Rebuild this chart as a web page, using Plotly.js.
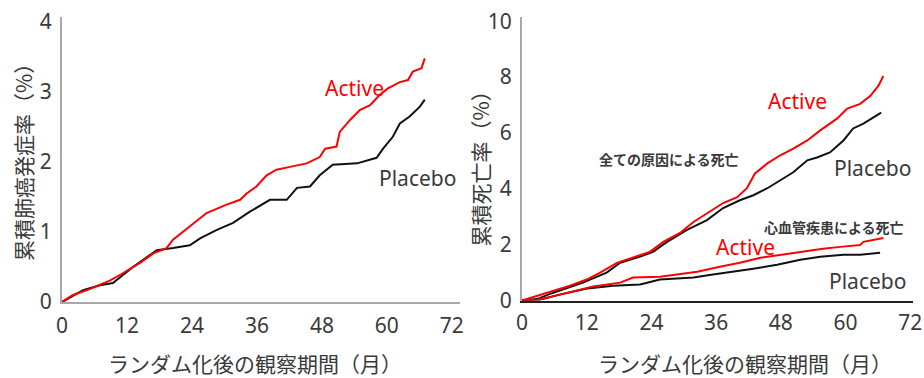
<!DOCTYPE html>
<html>
<head>
<meta charset="utf-8">
<script src="https://cdn.plot.ly/plotly-3.0.1.min.js"></script>
<style>html,body{margin:0;padding:0;background:#fff;}#chart{width:924px;height:378px;}</style>
</head>
<body>
<div id="chart"></div>
<script>
// Left panel: cumulative lung cancer incidence (%)
const lungActiveMonths = [0, 2, 5, 8.9, 11, 14.4, 17, 19.3, 20.5, 22, 24.2, 26.7, 30.4, 32.9, 34.1, 35.9, 37.8, 39.6, 42.1, 45.2, 47.6, 48.6, 50.7, 51.3, 53.2, 55, 56.9, 58.7, 60.2, 62.4, 63.9, 64.8, 66.4, 67];
const lungActiveRate   = [0, 0.10, 0.18, 0.31, 0.40, 0.56, 0.70, 0.77, 0.89, 0.98, 1.12, 1.27, 1.39, 1.46, 1.55, 1.65, 1.81, 1.89, 1.93, 1.98, 2.07, 2.19, 2.22, 2.43, 2.60, 2.74, 2.81, 2.96, 3.05, 3.14, 3.17, 3.29, 3.34, 3.48];
const lungPlaceboMonths = [0, 3.9, 7, 9.4, 13.1, 17.5, 20.5, 23.6, 25.5, 28.6, 31.6, 34.7, 38.4, 41.5, 43.4, 45.8, 47.6, 50, 54.5, 58.1, 59.3, 61.1, 62.4, 64.2, 66.1, 67];
const lungPlaceboRate   = [0, 0.17, 0.24, 0.27, 0.50, 0.74, 0.77, 0.81, 0.91, 1.03, 1.13, 1.29, 1.46, 1.46, 1.63, 1.65, 1.81, 1.96, 1.98, 2.06, 2.19, 2.36, 2.55, 2.65, 2.79, 2.89];

// Right panel: cumulative mortality (%)
const allActiveMonths = [0, 4.6, 8.9, 12, 14.5, 17.6, 21.3, 23.7, 26.2, 29.3, 31.8, 34.5, 37.3, 39.9, 41.7, 43.2, 45.5, 47.9, 50.3, 52.9, 55.3, 58.4, 60.3, 62.7, 64.6, 66.1, 67];
const allActiveRate   = [0, 0.28, 0.53, 0.75, 1.00, 1.35, 1.57, 1.74, 2.10, 2.42, 2.81, 3.13, 3.49, 3.70, 4.02, 4.55, 4.91, 5.20, 5.44, 5.73, 6.09, 6.51, 6.87, 7.04, 7.33, 7.69, 8.04];
const allPlaceboMonths = [0, 2.8, 5.8, 11.3, 15.7, 18.2, 21.9, 24.3, 26.9, 30.6, 34.3, 37.3, 40.4, 42.9, 45.5, 47.9, 50.3, 52.9, 54.7, 57.1, 59.6, 61.4, 63.3, 65.1, 66.6];
const allPlaceboRate   = [0, 0.05, 0.28, 0.64, 1.00, 1.35, 1.57, 1.74, 2.10, 2.53, 2.88, 3.31, 3.59, 3.77, 4.02, 4.31, 4.59, 5.02, 5.12, 5.30, 5.73, 6.16, 6.33, 6.55, 6.73];
const cvActiveMonths = [0, 2.8, 7, 13.2, 18.2, 20.6, 25.6, 28.8, 32.5, 36.7, 40.4, 44.2, 47.9, 52.1, 55.8, 59, 62.7, 63.3, 67];
const cvActiveRate   = [0, 0.02, 0.21, 0.50, 0.64, 0.82, 0.85, 0.93, 1.03, 1.21, 1.35, 1.53, 1.64, 1.74, 1.85, 1.92, 1.99, 2.10, 2.24];
const cvPlaceboMonths = [0, 2.8, 7, 12.1, 16.9, 21.9, 25.6, 31.8, 35.4, 39.1, 42.9, 47.3, 51.6, 55.3, 59.6, 62.7, 66.4];
const cvPlaceboRate   = [0, 0, 0.21, 0.43, 0.53, 0.57, 0.75, 0.82, 0.93, 1.03, 1.14, 1.28, 1.46, 1.57, 1.64, 1.64, 1.71];

const xTicks = [0, 12, 24, 36, 48, 60, 72];
const leftYTicks = [0, 1, 2, 3, 4];
const rightYTicks = [0, 2, 4, 6, 8, 10];

const xTitle = 'ランダム化後の観察期間（月）';
const leftYTitle = '累積肺癌発症率（%）';
const rightYTitle = '累積死亡率（%）';
const labelActive = 'Active';
const labelPlacebo = 'Placebo';
const labelAllCause = '全ての原因による死亡';
const labelCV = '心血管疾患による死亡';

const RED = '#ff0000';
const BLACK = '#111111';
const TXT = '#3a3a3a';
const FONT = 'Noto Sans, Noto Sans CJK JP, sans-serif';
const JFONT = 'Noto Sans CJK JP, Noto Sans, sans-serif';

function line(x, y, color, xa, ya) {
  return {x: x, y: y, xaxis: xa, yaxis: ya, type: 'scatter', mode: 'lines',
          line: {color: color, width: 2}, hoverinfo: 'skip', showlegend: false};
}

const traces = [
  line(lungPlaceboMonths, lungPlaceboRate, BLACK, 'x', 'y'),
  line(lungActiveMonths, lungActiveRate, RED, 'x', 'y'),
  line(allPlaceboMonths, allPlaceboRate, BLACK, 'x2', 'y2'),
  line(cvPlaceboMonths, cvPlaceboRate, BLACK, 'x2', 'y2'),
  line(allActiveMonths, allActiveRate, RED, 'x2', 'y2'),
  line(cvActiveMonths, cvActiveRate, RED, 'x2', 'y2')
];

const axisBase = {
  showgrid: false, zeroline: false, showline: true, linecolor: '#a8a8a8', linewidth: 2,
  ticks: '', tickfont: {family: FONT, size: 21, color: TXT}, fixedrange: true
};

function ann(x, y, xref, yref, text, size, color, bold, family, angle) {
  return {x: x, y: y, xref: xref, yref: yref, text: bold ? '<b>' + text + '</b>' : text,
          showarrow: false, xanchor: 'center', yanchor: 'middle', textangle: angle || 0,
          font: {family: family || FONT, size: size, color: color}};
}

const layout = {
  width: 924, height: 378,
  margin: {l: 0, r: 0, t: 0, b: 0},
  paper_bgcolor: '#ffffff', plot_bgcolor: '#ffffff',
  showlegend: false,
  xaxis: Object.assign({}, axisBase, {domain: [0.0671, 0.4978], range: [0, 73.5], tickvals: xTicks, ticktext: xTicks.map(String), anchor: 'y', ticklabelstandoff: 4}),
  yaxis: Object.assign({}, axisBase, {domain: [0.201, 0.955], range: [0, 4.07], tickvals: leftYTicks, ticktext: leftYTicks.map(String), anchor: 'x', ticklabelstandoff: 4}),
  xaxis2: Object.assign({}, axisBase, {domain: [0.5649, 0.9881], range: [0, 72.5], tickvals: xTicks, ticktext: xTicks.map(String), anchor: 'y2', linecolor: '#222222', ticklabelstandoff: 2}),
  yaxis2: Object.assign({}, axisBase, {domain: [0.205, 0.955], range: [0, 10.15], tickvals: rightYTicks, ticktext: rightYTicks.map(String), anchor: 'x2', ticklabelstandoff: 4}),
  annotations: [
    ann(0.276, 0.04, 'paper', 'paper', xTitle, 21, TXT, false, JFONT),
    ann(0.806, 0.04, 'paper', 'paper', xTitle, 21, TXT, false, JFONT),
    ann(0.025, 0.585, 'paper', 'paper', leftYTitle, 21, TXT, false, JFONT, -90),
    ann(0.519, 0.566, 'paper', 'paper', rightYTitle, 21, TXT, false, JFONT, -90),
    ann(54.1, 3.06, 'x', 'y', labelActive, 21, RED),
    ann(65.7, 1.77, 'x', 'y', labelPlacebo, 21, TXT),
    ann(51.0, 7.15, 'x2', 'y2', labelActive, 21, RED),
    ann(64.9, 4.73, 'x2', 'y2', labelPlacebo, 21, TXT),
    ann(27.3, 5.05, 'x2', 'y2', labelAllCause, 14, TXT, true, JFONT),
    ann(57.9, 2.63, 'x2', 'y2', labelCV, 14, TXT, true, JFONT),
    ann(41.4, 1.92, 'x2', 'y2', labelActive, 21, RED),
    ann(64.0, 0.71, 'x2', 'y2', labelPlacebo, 21, TXT)
  ]
};

Plotly.newPlot('chart', traces, layout, {staticPlot: true, displayModeBar: false});
</script>
</body>
</html>
